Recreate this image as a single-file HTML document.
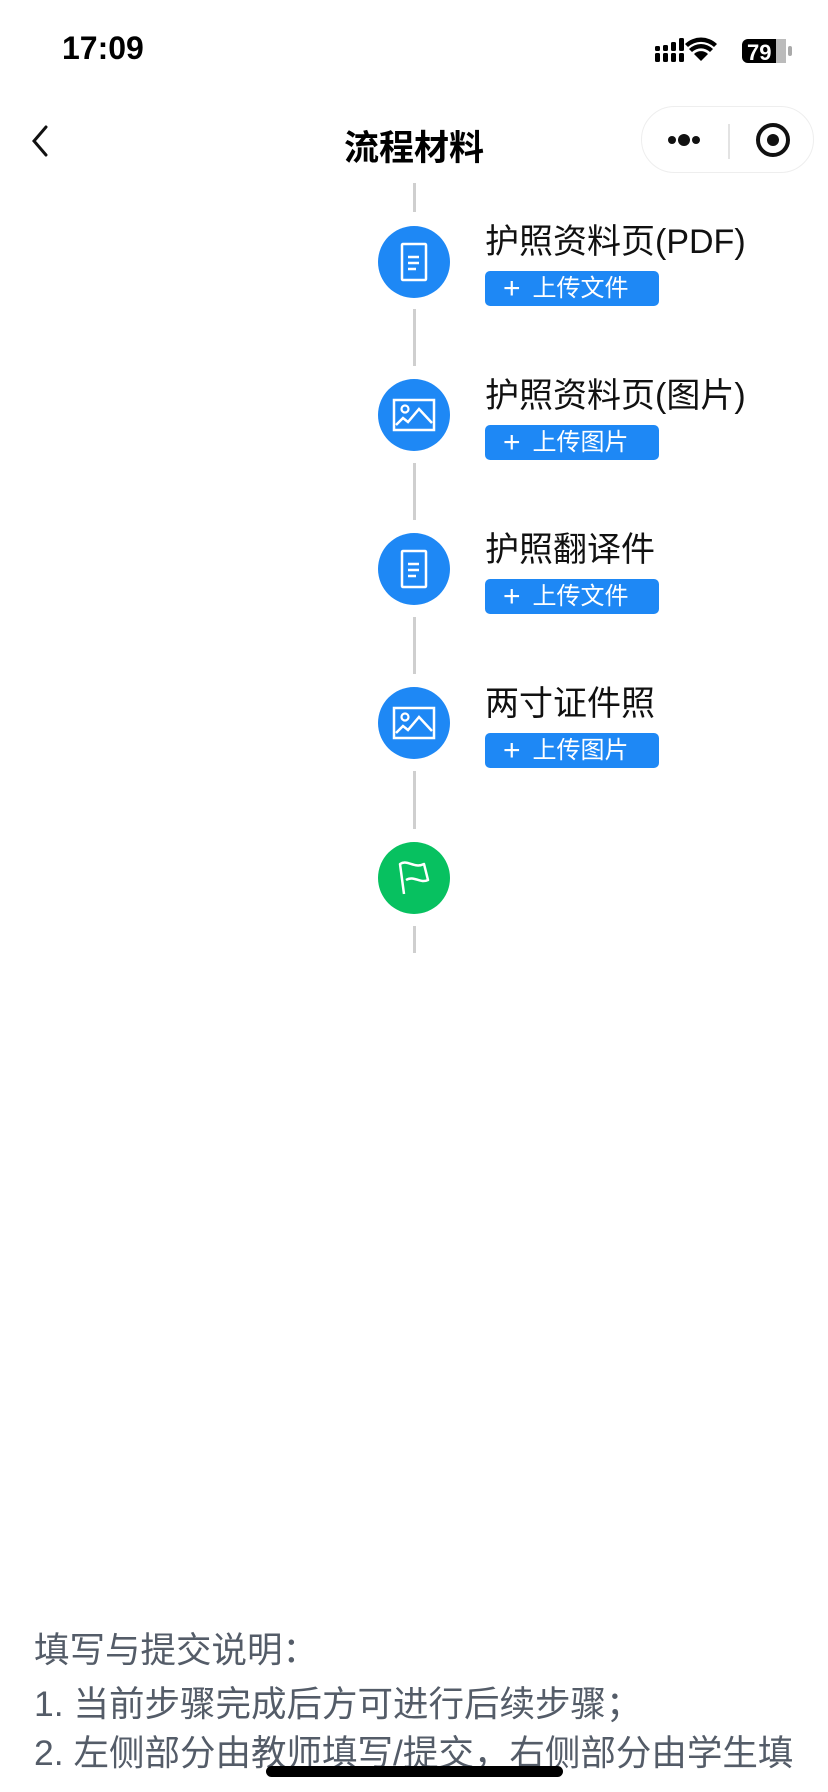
<!DOCTYPE html>
<html><head><meta charset="utf-8">
<style>
*{margin:0;padding:0;box-sizing:border-box}
html,body{width:828px;height:1792px;background:#fff;overflow:hidden;position:relative;font-family:"Liberation Sans","Noto Sans CJK SC",sans-serif}
.abs{position:absolute}
.line{position:absolute;left:413px;width:3px;background:#cfcfcf}
.circ{position:absolute;left:378px;width:72px;height:72px;border-radius:50%;background:#1e88f5}
.circ svg{position:absolute;left:0;top:0}
.lbl{position:absolute;left:485px;font-size:34px;color:#111;line-height:1;white-space:nowrap}
.btn{position:absolute;left:485px;width:174px;height:35px;background:#1e88f5;border-radius:5px;color:#fff;font-size:24px;line-height:35px;padding-left:18px;white-space:nowrap}
.btn b{font-weight:300;font-size:30px;margin-right:12px;vertical-align:-2px}
.note{position:absolute;left:34px;font-size:35.5px;color:#545c68;white-space:nowrap;line-height:1}
</style></head><body>
<div class="abs" style="left:62px;top:30px;font-size:32px;font-weight:bold;color:#000">17:09</div>
<svg class="abs" style="left:654px;top:37px" width="140" height="28">
<g fill="#000">
<rect x="1" y="16" width="5" height="9" rx="1.5"/><rect x="1" y="9" width="5" height="5" rx="1.5"/>
<rect x="9" y="16" width="5" height="9" rx="1.5"/><rect x="9" y="8" width="5" height="6" rx="1.5"/>
<rect x="17" y="16" width="5" height="9" rx="1.5"/><rect x="17" y="5" width="5" height="9" rx="1.5"/>
<rect x="25" y="16" width="5" height="9" rx="1.5"/><rect x="25" y="1" width="5" height="13" rx="1.5"/>
<path d="M47 24 L40 17 A10 10 0 0 1 54 17 Z"/>
<path d="M35 12 A17 17 0 0 1 59 12 L56 15 A13 13 0 0 0 38 15 Z"/>
<path d="M31 7 A23 23 0 0 1 63 7 L60 10 A19 19 0 0 0 34 10 Z"/>
<rect x="88" y="2" width="44" height="24" rx="6"/>
<rect x="134" y="9" width="4" height="10" rx="2" fill="#aaa"/>
</g>
<rect x="122" y="2" width="10" height="24" fill="#bbb" rx="0"/>
<text x="93" y="23" font-size="22" font-weight="bold" fill="#fff" font-family="Liberation Sans">79</text>
</svg>
<svg class="abs" style="left:30px;top:124px" width="30" height="34"><path d="M16 3 L4 17 L16 31" stroke="#111" stroke-width="3" fill="none" stroke-linecap="round"/></svg>
<div class="abs" style="left:0;width:828px;top:120px;text-align:center;font-size:35px;font-weight:bold;color:#000">流程材料</div>
<div class="abs" style="left:641px;top:106px;width:173px;height:67px;border:1.5px solid #eee;border-radius:34px"></div>
<div class="abs" style="left:728px;top:124px;width:1.5px;height:35px;background:#e3e3e3"></div>
<svg class="abs" style="left:664px;top:129px" width="40" height="22"><circle cx="8" cy="11" r="4" fill="#111"/><circle cx="20" cy="11" r="6" fill="#111"/><circle cx="32" cy="11" r="4" fill="#111"/></svg>
<svg class="abs" style="left:754px;top:121px" width="38" height="38"><circle cx="19" cy="19" r="15" stroke="#111" stroke-width="4" fill="none"/><circle cx="19" cy="19" r="6" fill="#111"/></svg>

<div class="line" style="top:183px;height:29px"></div>
<div class="line" style="top:309px;height:57px"></div>
<div class="line" style="top:463px;height:57px"></div>
<div class="line" style="top:617px;height:57px"></div>
<div class="line" style="top:771px;height:58px"></div>
<div class="line" style="top:926px;height:27px"></div>

<div class="circ" style="top:226px"><svg width="72" height="72"><rect x="24" y="18" width="24" height="36" fill="none" stroke="#fff" stroke-width="2.5" rx="1"/><path d="M30 31h11M30 37h11M30 43h8" stroke="#fff" stroke-width="2.5"/></svg></div>
<div class="lbl" style="top:225px">护照资料页(PDF)</div>
<div class="btn" style="top:271px"><b>+</b>上传文件</div>

<div class="circ" style="top:379px"><svg width="72" height="72"><rect x="16" y="21" width="40" height="30" fill="none" stroke="#fff" stroke-width="2.5"/><circle cx="27" cy="30" r="3.5" fill="none" stroke="#fff" stroke-width="2.2"/><path d="M18 46 L25 39 L30 43 L41 30 L54 44" fill="none" stroke="#fff" stroke-width="2.5"/></svg></div>
<div class="lbl" style="top:379px">护照资料页(图片)</div>
<div class="btn" style="top:425px"><b>+</b>上传图片</div>

<div class="circ" style="top:533px"><svg width="72" height="72"><rect x="24" y="18" width="24" height="36" fill="none" stroke="#fff" stroke-width="2.5" rx="1"/><path d="M30 31h11M30 37h11M30 43h8" stroke="#fff" stroke-width="2.5"/></svg></div>
<div class="lbl" style="top:533px">护照翻译件</div>
<div class="btn" style="top:579px"><b>+</b>上传文件</div>

<div class="circ" style="top:687px"><svg width="72" height="72"><rect x="16" y="21" width="40" height="30" fill="none" stroke="#fff" stroke-width="2.5"/><circle cx="27" cy="30" r="3.5" fill="none" stroke="#fff" stroke-width="2.2"/><path d="M18 46 L25 39 L30 43 L41 30 L54 44" fill="none" stroke="#fff" stroke-width="2.5"/></svg></div>
<div class="lbl" style="top:687px">两寸证件照</div>
<div class="btn" style="top:733px"><b>+</b>上传图片</div>

<div class="circ" style="top:842px;background:#07c160"><svg width="72" height="72"><path d="M26 52 L22 22 C30 17 36 27 46 22 L50 38 C42 42 36 33 28 38" fill="none" stroke="#fff" stroke-width="2.5" stroke-linejoin="round"/></svg></div>

<div class="note" style="top:1633px">填写与提交说明：</div>
<div class="note" style="top:1687px">1. 当前步骤完成后方可进行后续步骤；</div>
<div class="note" style="top:1736px">2. 左侧部分由教师填写/提交，右侧部分由学生填</div>
<div class="abs" style="left:266px;top:1766px;width:297px;height:11px;border-radius:6px;background:#000"></div>
</body></html>
